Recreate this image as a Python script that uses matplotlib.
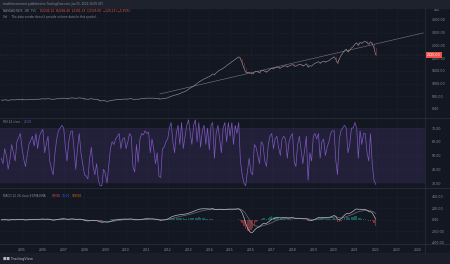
import numpy as np
import pandas as pd
import matplotlib
matplotlib.use("Agg")
import matplotlib.pyplot as plt
import matplotlib.dates as mdates
from matplotlib.transforms import blended_transform_factory as btf

# ---------------- data (monthly, Jan 2004 .. Jan 2022) ----------------
close = [
    350, 345, 360, 355, 340, 350, 365, 360, 355, 370, 375, 380,
    372, 365, 358, 362, 370, 375, 380, 378, 385, 380, 390, 395,
    400, 392, 398, 405, 395, 388, 380, 390, 400, 410, 415, 420,
    425, 418, 410, 420, 430, 435, 428, 415, 425, 440, 430, 420,
    400, 390, 380, 395, 405, 390, 380, 385, 360, 330, 320, 330,
    320, 300, 310, 330, 345, 350, 360, 370, 380, 375, 385, 390,
    385, 390, 400, 405, 385, 375, 390, 380, 395, 405, 410, 420,
    425, 430, 420, 430, 425, 415, 420, 400, 390, 405, 410, 420,
    440, 470, 500, 520, 540, 560, 580, 600, 640, 660, 690, 720,
    780, 820, 860, 900, 960, 1000, 1060, 1100, 1140, 1180, 1210, 1250,
    1270, 1320, 1380, 1350, 1420, 1480, 1530, 1560, 1600, 1650, 1700, 1760,
    1800, 1860, 1900, 1950, 2000, 2050, 1980, 1800, 1600, 1450, 1420, 1440,
    1400, 1380, 1450, 1480, 1460, 1430, 1500, 1520, 1480, 1450, 1500, 1560,
    1600, 1580, 1620, 1650, 1630, 1600, 1650, 1680, 1700, 1660, 1690, 1720,
    1750, 1700, 1680, 1720, 1760, 1740, 1700, 1720, 1780, 1650, 1700, 1680,
    1750, 1800, 1820, 1860, 1800, 1850, 1880, 1840, 1870, 1900, 1950, 2000,
    2050, 1950, 1800, 1950, 2100, 2200, 2300, 2350, 2250, 2300, 2400, 2450,
    2550, 2600, 2500, 2620, 2580, 2640, 2660, 2600, 2550, 2640, 2560, 2400,
    2125,
]
rsi = [
    48, 44, 55, 50, 40, 47, 58, 52, 46, 60, 63, 66,
    55, 47, 42, 50, 58, 61, 64, 57, 66, 55, 64, 67,
    69, 52, 58, 64, 46, 40, 36, 52, 62, 68, 70, 72,
    70, 56, 46, 60, 67, 68, 55, 40, 55, 66, 52, 44,
    36, 35, 33, 48, 56, 42, 36, 44, 32, 28, 28, 40,
    37, 30, 42, 55, 60, 58, 62, 64, 66, 55, 62, 63,
    55, 60, 66, 64, 42, 38, 58, 45, 62, 66, 65, 68,
    66, 67, 52, 62, 55, 44, 52, 35, 34, 55, 56, 60,
    62, 70, 74, 60, 52, 66, 72, 58, 74, 55, 64, 72,
    76, 66, 58, 72, 76, 60, 74, 56, 68, 72, 58, 70,
    54, 72, 74, 48, 66, 72, 62, 52, 70, 74, 60, 74,
    64, 74, 58, 72, 66, 74, 46, 36, 30, 28, 38, 48,
    38, 36, 58, 56, 50, 44, 60, 58, 46, 42, 58, 64,
    66, 55, 62, 64, 56, 50, 62, 64, 62, 48, 60, 64,
    66, 45, 42, 58, 64, 54, 44, 54, 64, 32, 52, 46,
    64, 66, 62, 66, 48, 60, 62, 50, 56, 60, 66, 68,
    68, 46, 36, 62, 68, 70, 72, 70, 52, 58, 70, 70,
    74, 70, 48, 68, 58, 66, 66, 52, 46, 66, 44, 32,
    29,
]
macd = [
    2, 0, 3, 2, -3, -2, 4, 3, 1, 6, 8, 9,
    5, 1, -3, -1, 3, 6, 8, 7, 10, 8, 11, 12,
    14, 10, 10, 12, 6, 0, -6, -3, 3, 10, 14, 18,
    20, 15, 8, 10, 14, 16, 12, 4, 6, 12, 8, 2,
    -8, -14, -20, -16, -8, -10, -15, -14, -22, -35, -42, -38,
    -36, -40, -36, -26, -15, -8, -2, 4, 10, 10, 13, 14,
    12, 12, 15, 16, 8, 0, 2, 0, 5, 10, 13, 17,
    18, 20, 15, 17, 14, 8, 7, -2, -8, -5, -2, 3,
    15, 30, 48, 60, 70, 78, 84, 88, 95, 96, 100, 104,
    115, 125, 135, 145, 160, 170, 182, 188, 190, 192, 190, 190,
    186, 190, 196, 180, 178, 182, 184, 180, 178, 180, 182, 186,
    184, 186, 184, 186, 188, 192, 170, 120, 40, -60, -140, -190,
    -220, -215, -180, -150, -130, -120, -90, -65, -60, -60, -40, -15,
    10, 20, 30, 40, 40, 35, 38, 40, 42, 35, 34, 36,
    40, 30, 20, 22, 26, 24, 18, 16, 20, 0, -5, -10,
    -5, 10, 22, 40, 35, 38, 42, 40, 38, 40, 50, 62,
    75, 60, 10, 0, 20, 50, 80, 105, 110, 112, 130, 150,
    175, 190, 180, 185, 175, 178, 180, 165, 140, 140, 120, 70,
    10,
]
signal = [
    0, 0, 1, 1, 1, 0, 1, 1, 1, 2, 4, 5,
    5, 4, 2, 1, 1, 2, 4, 5, 7, 7, 8, 9,
    11, 11, 11, 11, 10, 8, 5, 3, 2, 4, 6, 9,
    12, 13, 12, 11, 12, 13, 13, 11, 10, 10, 10, 8,
    4, -1, -6, -9, -9, -9, -11, -12, -14, -19, -26, -30,
    -32, -34, -35, -33, -29, -24, -19, -14, -9, -5, -1, 2,
    5, 7, 9, 11, 11, 9, 7, 5, 5, 6, 8, 10,
    12, 14, 14, 15, 15, 13, 12, 9, 5, 3, 1, 1,
    4, 10, 18, 26, 35, 43, 51, 58, 65, 71, 77, 82,
    89, 97, 105, 113, 122, 132, 141, 150, 158, 165, 170, 174,
    177, 179, 182, 182, 181, 181, 182, 181, 181, 180, 181, 182,
    183, 183, 183, 184, 185, 186, 183, 170, 144, 104, 55, 6,
    -39, -74, -95, -106, -111, -113, -108, -100, -91, -83, -75, -63,
    -48, -34, -21, -9, 1, 7, 12, 18, 22, 25, 27, 29,
    31, 31, 29, 27, 27, 26, 25, 23, 22, 18, 13, 8,
    5, 6, 9, 15, 19, 23, 27, 30, 31, 33, 37, 42,
    49, 51, 43, 35, 32, 35, 44, 56, 67, 76, 87, 100,
    115, 130, 140, 149, 154, 159, 163, 163, 159, 155, 148, 133,
    109,
]
dates = pd.date_range("2004-01-01", periods=len(close), freq="MS")
trend_dates = ["2011-08-15", "2024-04-15"]
trend_vals = [590, 2990]
year_labels = [str(y) for y in range(2005, 2025)]
price_ticks = [0, 500, 1000, 1500, 2000, 2500, 3000, 3500, 4000]
rsi_ticks = [30, 40, 50, 60, 70]
macd_ticks = [-400, -200, 0, 200, 400]

# ---------------- style ----------------
BG = "#131722"
GRID = "#1b1f2c"
SEP = "#2a2e39"
TXT = "#8a8e99"
W, H = 450, 264
fig = plt.figure(figsize=(W / 100, H / 100), dpi=100, facecolor=BG)

def axes_px(x0, y0, x1, y1):
    ax = fig.add_axes([x0 / W, 1 - y1 / H, (x1 - x0) / W, (y1 - y0) / H])
    ax.set_facecolor(BG)
    for s in ax.spines.values():
        s.set_visible(False)
    return ax

xl = (mdates.date2num(pd.Timestamp("2003-12-10")), mdates.date2num(pd.Timestamp("2024-05-15")))
CH_R = 425

def style(ax, ticks, fmt):
    ax.set_xlim(xl)
    ax.yaxis.tick_right()
    ax.set_yticks(ticks)
    ax.set_yticklabels([fmt(t) for t in ticks])
    ax.tick_params(axis="y", length=0, labelsize=2.3, colors=TXT, pad=5)
    ax.tick_params(axis="x", length=0, labelbottom=False)
    ax.set_xticks([mdates.date2num(pd.Timestamp(f"{y}-01-01")) for y in year_labels])
    ax.grid(True, color=GRID, lw=0.4)
    ax.set_axisbelow(True)

# header strip
fig.patches.append(plt.Rectangle((0, 1 - 8 / H), 1, 8 / H, transform=fig.transFigure,
                                 color="#1e222d", zorder=0))
fig.text(3 / W, 1 - 4 / H, "tradeforcomment published on TradingView.com, Jan 05, 2022 20:09 UTC",
         fontsize=2.0, color=TXT, va="center")
# bottom strip
fig.patches.append(plt.Rectangle((0, 0), 1, 11 / H, transform=fig.transFigure,
                                 color="#1a1e29", zorder=0))
fig.text(3 / W, 5 / H, "\u25A0\u25A0 TradingView", fontsize=2.6, color="#b2b5be", va="center")

# ---------------- price panel ----------------
axp = axes_px(0, 8, CH_R, 117)
style(axp, price_ticks, lambda t: f"{t:.2f}")
axp.set_ylim(-315, 3970)
axp.plot(dates, close, color="#8c909b", lw=0.45, zorder=3)
chg = np.diff(close)
for d, c0, c1, g in zip(dates[1:], close[:-1], close[1:], chg):
    if g < 0:
        axp.plot([d, d], [c0, c1], color="#ef5350", lw=0.5, alpha=0.45, zorder=4)
axp.plot(pd.to_datetime(trend_dates), trend_vals, color="#787b86", lw=0.4, zorder=2)
last = close[-1]
axp.axhline(last, color="#ef5350", lw=0.3, ls=(0, (1, 2)), alpha=0.7, zorder=2)
axp.text(1.005, last, f"{last:.2f}", transform=btf(axp.transAxes, axp.transData),
         fontsize=2.3, color="white", va="center", ha="left",
         bbox=dict(boxstyle="square,pad=0.35", fc="#ef5350", ec="none"), clip_on=False)
axp.text(1.02, 1.0, "USD", transform=axp.transAxes, fontsize=2.1, color=TXT, va="top")
fig.text(3 / W, 1 - 11 / H, "NASDAQ:NDX, 1W  TVC", fontsize=2.1, color=TXT, va="center")
fig.text(40 / W, 1 - 11 / H, "O2245.12  H2265.40  L2101.33  C2125.00  \u2212120.12 (\u22125.35%)",
         fontsize=2.1, color="#ef5350", va="center")
fig.text(3 / W, 1 - 17 / H, "Vol  \u00b7  The data vendor doesn't provide volume data for this symbol.",
         fontsize=2.0, color=TXT, va="center")

# separators
for y in (117.5, 187.5, 243.5):
    fig.add_artist(plt.Line2D([0, 1], [1 - y / H] * 2, color=SEP, lw=0.6))
fig.add_artist(plt.Line2D([CH_R / W] * 2, [11 / H, 1 - 8 / H], color=SEP, lw=0.5))

# ---------------- RSI panel ----------------
axr = axes_px(0, 118, CH_R, 187)
style(axr, rsi_ticks, lambda t: f"{t:.2f}")
axr.set_ylim(27.1, 77.3)
axr.axhspan(30, 70, color="#7e57c2", alpha=0.14, lw=0)
axr.plot(dates, rsi, color="#7e57c2", lw=0.5)
fig.text(3 / W, 1 - 122 / H, "RSI 14 close", fontsize=2.1, color=TXT, va="center")
fig.text(24 / W, 1 - 122 / H, f"{rsi[-1]:.2f}", fontsize=2.1, color="#7e57c2", va="center")

# ---------------- MACD panel ----------------
axm = axes_px(0, 188, CH_R, 243)
style(axm, macd_ticks, lambda t: f"{t:.2f}")
axm.set_ylim(-400, 550)
hist = np.array(macd) - np.array(signal)
cols = ["#26a69a" if h >= 0 else "#ef5350" for h in hist]
axm.bar(dates, hist, width=25, color=cols, alpha=0.45, zorder=2)
axm.plot(dates, signal, color="#6a6d78", lw=0.5, zorder=3)
axm.plot(dates, macd, color="#b8bac1", lw=0.5, zorder=4)
fig.text(3 / W, 1 - 196 / H, "MACD 12 26 close 9 EMA EMA", fontsize=2.1, color=TXT, va="center")
fig.text(52 / W, 1 - 196 / H, f"{hist[-1]:.2f}", fontsize=2.1, color="#ef5350", va="center")
fig.text(62 / W, 1 - 196 / H, f"{macd[-1]:.2f}", fontsize=2.1, color="#2962ff", va="center")
fig.text(72 / W, 1 - 196 / H, f"{signal[-1]:.2f}", fontsize=2.1, color="#ff6d00", va="center")

# time axis labels
for y in year_labels:
    xd = mdates.date2num(pd.Timestamp(f"{y}-01-01"))
    axm.text(xd, -0.12, y, transform=btf(axm.transData, axm.transAxes),
             fontsize=2.2, color=TXT, ha="center", va="center", clip_on=False)

fig.savefig("out.png", dpi=100, facecolor=BG)
